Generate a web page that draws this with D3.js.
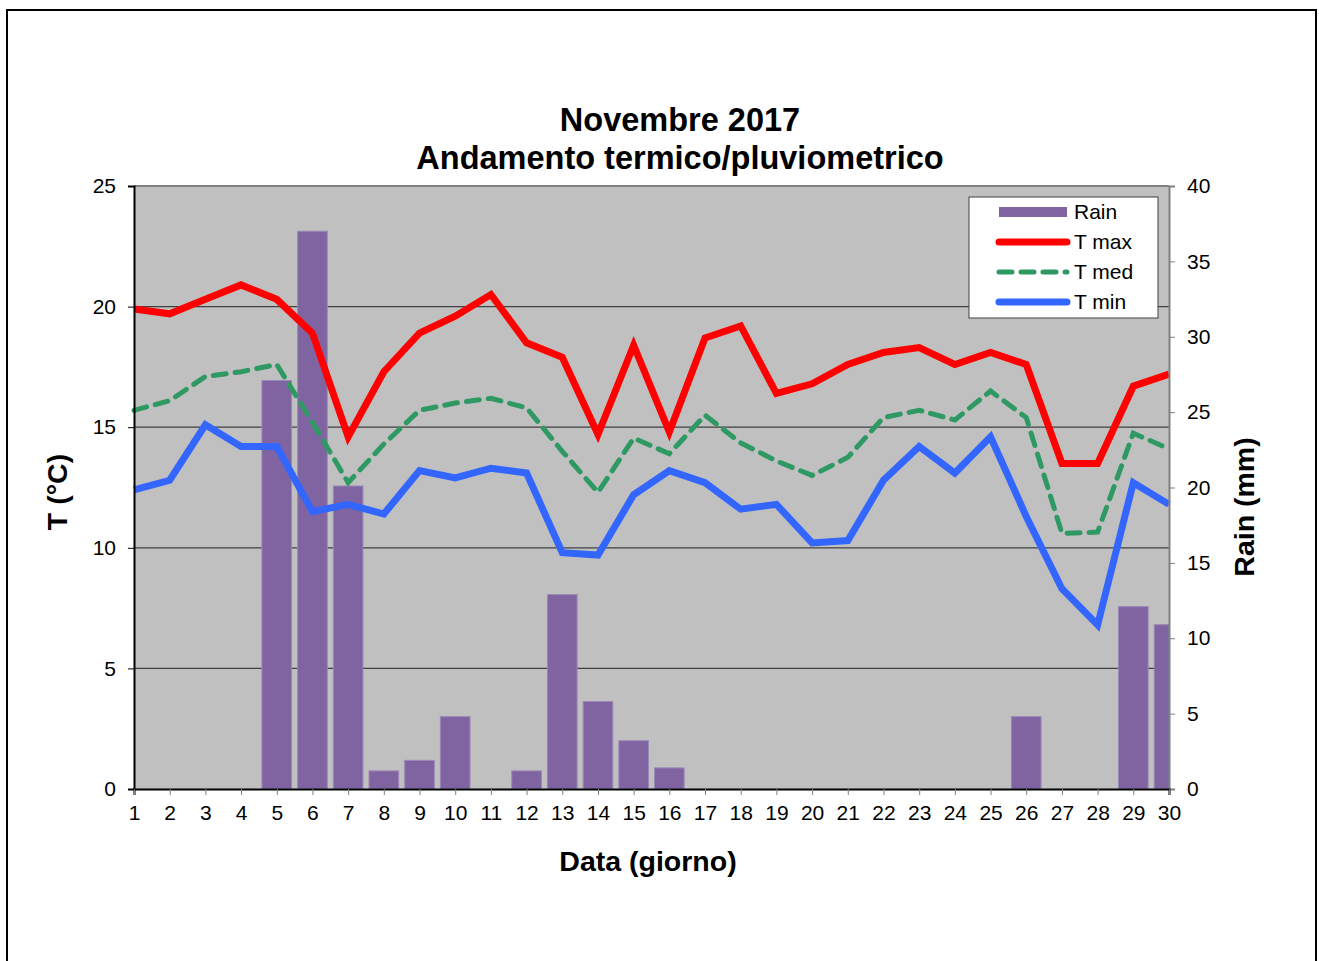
<!DOCTYPE html>
<html>
<head>
<meta charset="utf-8">
<script src="https://cdn.jsdelivr.net/npm/d3@7"></script>
<style>
  body { margin: 0; background: #fff; }
  text { font-family: "Liberation Sans", Arial, sans-serif; }
</style>
</head>
<body>
<div id="chart"></div>
<script>
const svgWidth = 1319;
const svgHeight = 961;

const margin = { top: 186, right: 150, bottom: 172, left: 134 };
const width = 1169 - margin.left;
const height = 789 - margin.top;

// data
const days = d3.range(1, 31);
const rain = [0, 0, 0, 0, 27.1, 37.0, 20.1, 1.2, 1.9, 4.8,
              0, 1.2, 12.9, 5.8, 3.2, 1.4, 0, 0, 0, 0,
              0, 0, 0, 0, 0, 4.8, 0, 0, 12.1, 10.9];
const tMax = [19.9, 19.7, 20.3, 20.9, 20.3, 18.9, 14.6, 17.3, 18.9, 19.6,
              20.5, 18.5, 17.9, 14.7, 18.4, 14.8, 18.7, 19.2, 16.4, 16.8,
              17.6, 18.1, 18.3, 17.6, 18.1, 17.6, 13.5, 13.5, 16.7, 17.2];
const tMed = [15.7, 16.1, 17.1, 17.3, 17.6, 15.2, 12.7, 14.3, 15.7, 16.0,
              16.2, 15.8, 14.0, 12.3, 14.55, 13.9, 15.5, 14.35, 13.6, 13.0,
              13.75, 15.4, 15.7, 15.3, 16.5, 15.4, 10.6, 10.65, 14.75, 14.1];
const tMin = [12.4, 12.8, 15.1, 14.2, 14.2, 11.5, 11.8, 11.4, 13.2, 12.9,
              13.3, 13.1, 9.8, 9.7, 12.2, 13.2, 12.7, 11.6, 11.8, 10.2,
              10.3, 12.8, 14.2, 13.1, 14.6, 11.3, 8.3, 6.8, 12.7, 11.8];
const tempTicks = [0, 5, 10, 15, 20, 25];
const rainTicks = [0, 5, 10, 15, 20, 25, 30, 35, 40];

const series = [
    { name: "T max", values: tMax, color: "#ff0000", width: 7, dash: null },
    { name: "T med", values: tMed, color: "#2e9963", width: 5, dash: "13,9" },
    { name: "T min", values: tMin, color: "#3366ff", width: 7, dash: null }
];

const svg = d3.select("#chart")
    .append("svg")
    .attr("width", svgWidth)
    .attr("height", svgHeight);

// outer frame
svg.append("rect")
    .attr("x", 7).attr("y", 10)
    .attr("width", 1309).attr("height", 970)
    .attr("fill", "#fff")
    .attr("stroke", "#000")
    .attr("stroke-width", 2);

const chartGroup = svg.append("g")
    .attr("transform", `translate(${margin.left}, ${margin.top})`);

const xLinear = d3.scaleLinear().domain([1, 30]).range([0, width]);
const yTemp = d3.scaleLinear().domain([0, 25]).range([height, 0]);
const yRain = d3.scaleLinear().domain([0, 40]).range([height, 0]);
const step = xLinear(2) - xLinear(1);
const barWidth = step * 0.83;

chartGroup.append("defs").append("clipPath")
    .attr("id", "plotClip")
    .append("rect")
    .attr("width", width).attr("height", height);

chartGroup.append("rect")
    .attr("width", width).attr("height", height)
    .attr("fill", "#c0c0c0");

// gridlines
chartGroup.selectAll(".grid")
    .data(tempTicks.filter(t => t > 0 && t < 25))
    .enter()
    .append("line")
    .attr("x1", 0).attr("x2", width)
    .attr("y1", d => yTemp(d)).attr("y2", d => yTemp(d))
    .attr("stroke", "#404040")
    .attr("stroke-width", 1.3);

// top border of the plot
chartGroup.append("line")
    .attr("x1", 0).attr("x2", width)
    .attr("y1", 0).attr("y2", 0)
    .attr("stroke", "#808080").attr("stroke-width", 2);

// rain bars
chartGroup.append("g")
    .attr("clip-path", "url(#plotClip)")
    .selectAll("rect")
    .data(days.map((d, i) => ({ day: d, value: rain[i] })).filter(d => d.value > 0))
    .enter()
    .append("rect")
    .attr("x", d => xLinear(d.day) - barWidth / 2)
    .attr("y", d => yRain(d.value))
    .attr("width", barWidth)
    .attr("height", d => height - yRain(d.value))
    .attr("fill", "#8064a2")
    .attr("stroke", "#9a88b8")
    .attr("stroke-width", 1);

// temperature lines
const lineGen = d3.line()
    .x((d, i) => xLinear(days[i]))
    .y(d => yTemp(d));

series.forEach(function(s) {
    chartGroup.append("path")
        .datum(s.values)
        .attr("d", lineGen)
        .attr("fill", "none")
        .attr("stroke", s.color)
        .attr("stroke-width", s.width)
        .attr("stroke-linejoin", "miter")
        .attr("stroke-dasharray", s.dash)
        .attr("stroke-linecap", s.dash ? "round" : "butt");
});

// axes
const leftAxis = chartGroup.append("g")
    .call(d3.axisLeft(yTemp).tickValues(tempTicks).tickSize(6).tickPadding(12));
const rightAxis = chartGroup.append("g")
    .attr("transform", `translate(${width}, 0)`)
    .call(d3.axisRight(yRain).tickValues(rainTicks).tickSize(6).tickPadding(12));
const bottomAxis = chartGroup.append("g")
    .attr("transform", `translate(0, ${height})`)
    .call(d3.axisBottom(xLinear).tickValues(days).tickFormat(d3.format("d")).tickSize(6).tickPadding(10));

[leftAxis, rightAxis, bottomAxis].forEach(function(ax) {
    ax.selectAll("text")
        .attr("font-size", 21)
        .attr("fill", "#000")
        .style("font-family", "'Liberation Sans', Arial, sans-serif");
});
leftAxis.select(".domain").attr("stroke", "#000").attr("stroke-width", 2);
leftAxis.selectAll(".tick line").attr("stroke", "#000");
bottomAxis.select(".domain").attr("stroke", "#000").attr("stroke-width", 2);
bottomAxis.selectAll(".tick line").attr("stroke", "#808080");
rightAxis.select(".domain").attr("stroke", "#808080").attr("stroke-width", 2);
rightAxis.selectAll(".tick line").attr("stroke", "#808080");

// titles
const title = svg.append("g").attr("font-weight", "bold").attr("font-size", 32.5)
    .attr("text-anchor", "middle");
title.append("text").attr("x", 680).attr("y", 131).text("Novembre 2017");
title.append("text").attr("x", 680).attr("y", 169).text("Andamento termico/pluviometrico");

svg.append("text")
    .attr("x", 648).attr("y", 871)
    .attr("text-anchor", "middle")
    .attr("font-weight", "bold").attr("font-size", 28.5)
    .text("Data (giorno)");

svg.append("text")
    .attr("transform", "translate(67, 492) rotate(-90)")
    .attr("text-anchor", "middle")
    .attr("font-weight", "bold").attr("font-size", 28.5)
    .text("T (°C)");

svg.append("text")
    .attr("transform", "translate(1254, 507) rotate(-90)")
    .attr("text-anchor", "middle")
    .attr("font-weight", "bold").attr("font-size", 28.5)
    .text("Rain (mm)");

// legend
const legend = svg.append("g").attr("transform", "translate(969, 197)");
legend.append("rect")
    .attr("width", 189).attr("height", 121)
    .attr("fill", "#fff").attr("stroke", "#404040").attr("stroke-width", 1);

const legendItems = [{ name: "Rain" }].concat(series);
legendItems.forEach(function(item, i) {
    const cy = 15 + i * 30;
    if (i === 0) {
        legend.append("rect")
            .attr("x", 30).attr("y", cy - 5)
            .attr("width", 68).attr("height", 10)
            .attr("fill", "#8064a2");
    } else {
        legend.append("line")
            .attr("x1", 30).attr("x2", 98)
            .attr("y1", cy).attr("y2", cy)
            .attr("stroke", item.color)
            .attr("stroke-width", item.width)
            .attr("stroke-linecap", "round")
            .attr("stroke-dasharray", item.dash);
    }
    legend.append("text")
        .attr("x", 105).attr("y", cy + 7)
        .attr("font-size", 21)
        .text(item.name);
});
</script>
</body>
</html>
